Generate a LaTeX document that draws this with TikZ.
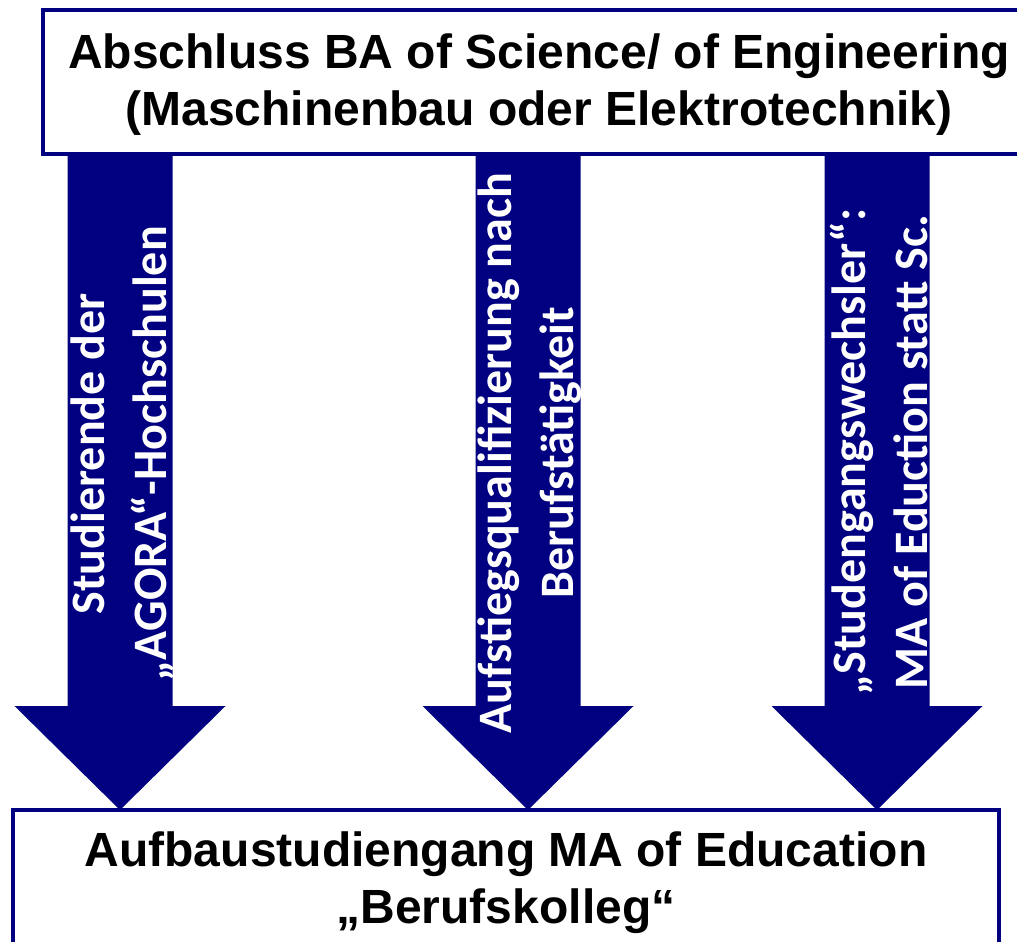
\documentclass[tikz,border=0pt]{standalone}
\usepackage{fontspec}
\setmainfont{Liberation Sans}
\newfontfamily\calfont{Carlito}
\definecolor{navy}{RGB}{0,0,128}
\tikzset{
  box/.style={draw=navy, line width=4pt, fill=white},
  boxtext/.style={font=\fontsize{48}{57}\selectfont\bfseries, align=center, text=black, inner sep=0pt},
  arrowtext/.style={font=\calfont\fontsize{48}{62}\selectfont\bfseries, align=center, text=white, rotate=90, inner sep=0pt},
  blockarrow/.style={fill=navy}
}
\begin{document}
\begin{tikzpicture}[x=1pt,y=-1pt]
\useasboundingbox (0,0) rectangle (1017,942);
% arrows
\foreach \c/\n in {120/a, 528/b, 877/c}{
  \fill[blockarrow] (\c-52.5,150) -- (\c+52.5,150) -- (\c+52.5,706) -- (\c+105.5,706)
     -- (\c,810) -- (\c-105.5,706) -- (\c-52.5,706) -- cycle;
}
% boxes
\draw[box] (43,10) rectangle (1035,154);
\draw[box] (13,810) rectangle (999,960);
\node[boxtext] (top) at (539,85) {Abschluss BA of Science/ of Engineering\\(Maschinenbau oder Elektrotechnik)};
\node[boxtext] (bot) at (506,883) {Aufbaustudiengang MA of Education\\„Berufskolleg“};
% arrow texts
\node[arrowtext] (ta) at (122,454) {Studierende der\\„AGORA“-Hochschulen};
\node[arrowtext] (tb) at (530,453) {Aufstiegsqualifizierung nach\\Berufstätigkeit};
\node[arrowtext] (tc) at (879,452) {„Studengangswechsler“:\\MA of Eduction statt Sc.};
\end{tikzpicture}
\end{document}
